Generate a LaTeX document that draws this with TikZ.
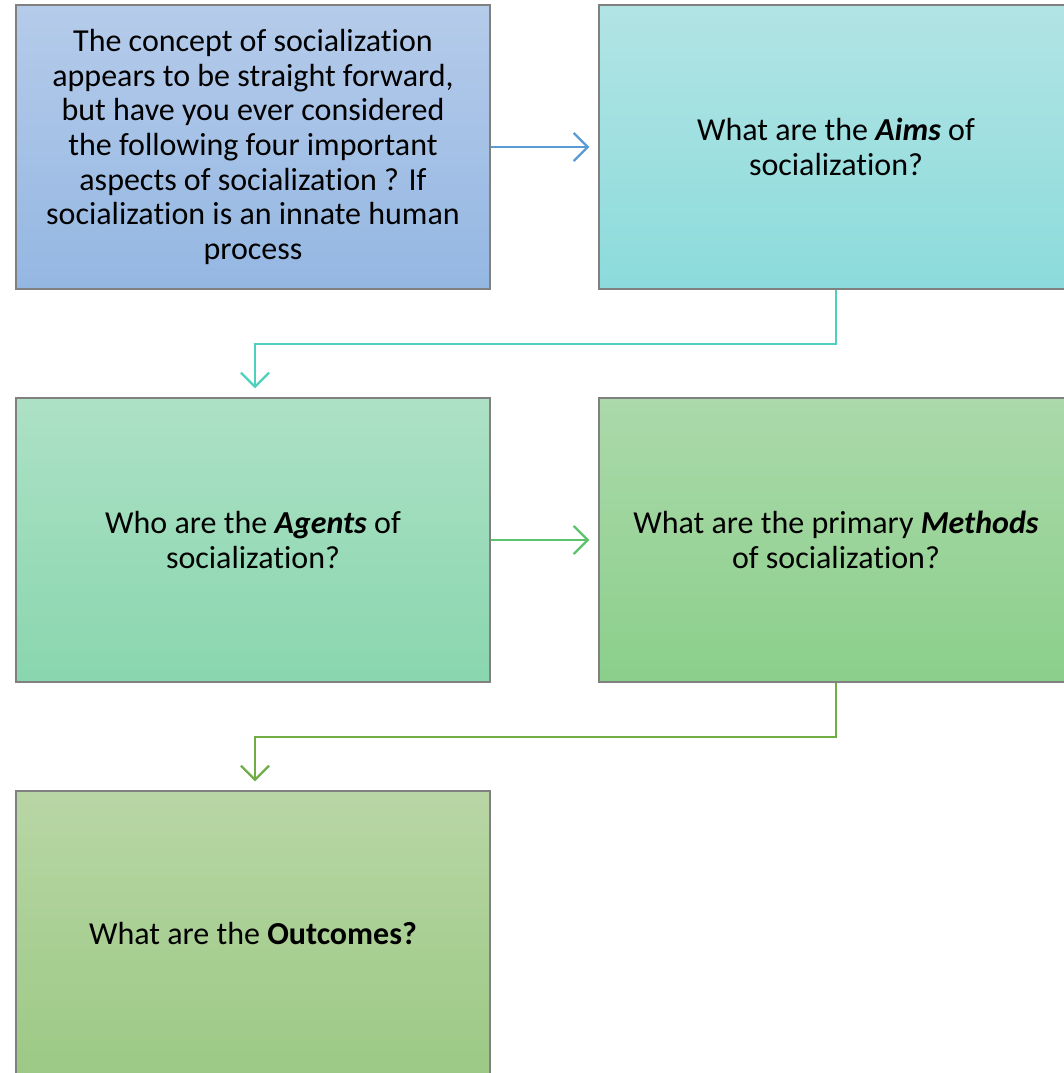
\documentclass[tikz,border=0pt]{standalone}
\usepackage{fontspec}
\setmainfont{Carlito}[Ligatures=NoCommon]
\usepackage{xcolor}
\usepackage{tikz}
\usetikzlibrary{arrows.meta}

\definecolor{introtop}{HTML}{B5CBEA}
\definecolor{introbot}{HTML}{94B7E2}
\definecolor{aimstop}{HTML}{B2E4E4}
\definecolor{aimsbot}{HTML}{8CDBDC}
\definecolor{agentstop}{HTML}{ADE1C6}
\definecolor{agentsbot}{HTML}{89D6AE}
\definecolor{methodstop}{HTML}{ABD9AA}
\definecolor{methodsbot}{HTML}{8BCF8B}
\definecolor{outtop}{HTML}{B8D6A5}
\definecolor{outbot}{HTML}{9CC985}
\definecolor{bluearrow}{HTML}{5B9BD5}
\definecolor{tealarrow}{HTML}{4FCFBE}
\definecolor{greenarrow}{HTML}{5CC36C}
\definecolor{olivearrow}{HTML}{70AD47}

\begin{document}
\begin{tikzpicture}[x=1pt,y=1pt]
			\tikzstyle{box}=[draw=black!50, line width=1.5pt, minimum width=474pt, minimum height=284pt, align=center, font=\fontsize{32}{34.6}\selectfont]
			\tikzset{edge/.style = {line width=2.2pt, -{Straight Barb[length=14pt,width=28pt,line width=2.2pt]}, shorten >=9pt}}
			
			\useasboundingbox (0,0) rectangle (1064,-1073);
			\clip (0,0) rectangle (1064,-1073);
			
			\node[box, top color=introtop, bottom color=introbot](intro) at (253,-147) {The concept of socialization\\appears to be straight forward,\\but have you ever considered\\the following four important\\aspects of socialization ? If\\socialization is an innate human\\process};
			\node[box, top color=aimstop, bottom color=aimsbot](aims) at (836,-147) {What are the \textbf{\textit{Aims}} of\\socialization?};
			\node[box, top color=agentstop, bottom color=agentsbot](agents) at (253,-540) {Who are the \textbf{\textit{Agents}} of\\socialization?};
			\node[box, top color=methodstop, bottom color=methodsbot](methods) at (836,-540) {What are the primary \textbf{\textit{Methods}}\\of socialization?};
			\node[box, top color=outtop, bottom color=outbot](outcomes) at (253,-933) {What are the \textbf{Outcomes?}};
			
			\draw[edge, bluearrow](intro) to (aims);
			\draw[edge, tealarrow](aims.south) -- ++(0,-54) -| ([xshift=2pt]agents.north);
			\draw[edge, greenarrow](agents) to (methods);
			\draw[edge, olivearrow](methods.south) -- ++(0,-54) -| ([xshift=2pt]outcomes.north);
			
			\end{tikzpicture}
\end{document}
